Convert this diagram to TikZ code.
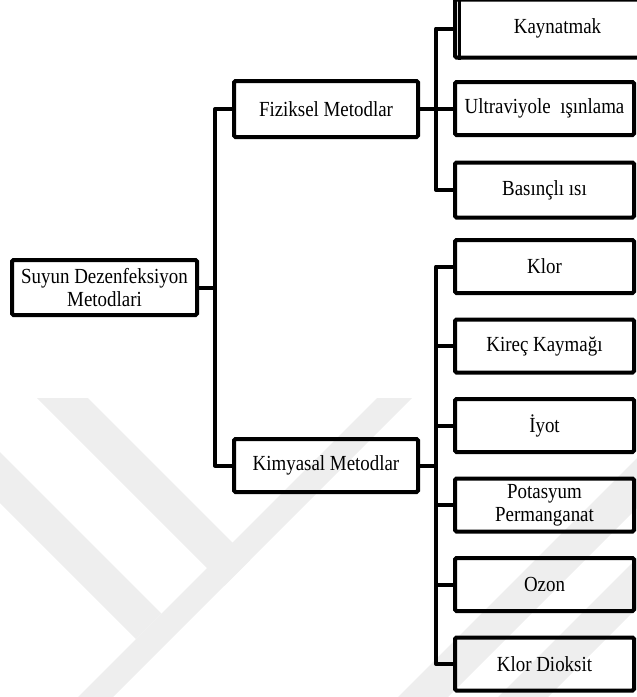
\documentclass[tikz,border=0pt]{standalone}
\usepackage{fontspec}
\setmainfont{Liberation Serif}
\newfontfamily\boxfont[FakeStretch=0.88]{Liberation Serif}
\definecolor{wm}{RGB}{238,238,238}
\begin{document}
\begin{tikzpicture}[x=1pt,y=-1pt,
  box/.style={draw=black, line width=4pt, rounded corners=1.5pt, inner sep=0pt,
    align=center, font=\boxfont\fontsize{21.5}{23}\selectfont, text=black},
  lbox/.style={box, minimum width=184pt, minimum height=55pt},
  rbox/.style={box, minimum width=179pt, minimum height=53pt},
  link/.style={line width=4pt, draw=black, line join=round},
  wmark/.style={fill=wm, draw=none}]
\clip (0,0) rectangle (637,697);
% faint watermark
\fill[wmark] (37,398) -- (88,398) -- (250,560) -- (224.5,585.5) -- cycle;
\fill[wmark] (377,398) -- (412,398) -- (113,697) -- (78,697) -- cycle;
\fill[wmark] (0,452) -- (161.5,613.5) -- (136,639) -- (0,503) -- cycle;
\fill[wmark] (637,458) -- (637,508) -- (448,697) -- (398,697) -- cycle;
\fill[wmark] (637,558) -- (637,608) -- (548,697) -- (498,697) -- cycle;
% nodes
\node[box, minimum width=185pt, minimum height=55pt] (root) at (104.5,287.5)
  {Suyun Dezenfeksiyon\\Metodlari};
\node[lbox, minimum height=56pt] (fiz) at (326,109) {Fiziksel Metodlar};
\node[lbox, minimum height=53pt] (kim) at (326,465.5) {Kimyasal Metodlar};
\node[box, minimum width=205pt, minimum height=58pt] (kay) at (557.5,28.5) {Kaynatmak};
\node[rbox] (ult) at (544.5,108.5) {Ultraviyole \ ışınlama};
\node[rbox, minimum height=55pt] (bas) at (544.5,190) {Basınçlı ısı};
\node[rbox] (klor) at (544.5,266.5) {Klor};
\node[rbox] (kirec) at (544.5,346) {Kireç Kaymağı};
\node[rbox] (iyot) at (544.5,425.5) {İyot};
\node[rbox] (pot) at (544.5,505) {Potasyum\\Permanganat};
\node[rbox] (ozon) at (544.5,584.5) {Ozon};
\node[rbox] (kd) at (544.5,664) {Klor Dioksit};
\draw[line width=2.5pt] ([xshift=6.5pt]kay.north west) -- ([xshift=6.5pt]kay.south west);
% buses
\coordinate (lb) at (215,0);
\coordinate (rb) at (436,0);
\draw[link] (fiz.west) -- (fiz.west -| lb) -- (kim.west -| lb) -- (kim.west);
\draw[link] (root.east) -- (root.east -| lb);
\draw[link] (fiz.east) -- (fiz.east -| rb);
\draw[link] (kay.west) -- (kay.west -| rb) -- (bas.west -| rb) -- (bas.west);
\draw[link] (ult.west) -- (ult.west -| rb);
\draw[link] (kim.east) -- (kim.east -| rb);
\draw[link] (klor.west) -- (klor.west -| rb) -- (kd.west -| rb) -- (kd.west);
\draw[link] (kirec.west) -- (kirec.west -| rb);
\draw[link] (iyot.west) -- (iyot.west -| rb);
\draw[link] (pot.west) -- (pot.west -| rb);
\draw[link] (ozon.west) -- (ozon.west -| rb);
\end{tikzpicture}
\end{document}
